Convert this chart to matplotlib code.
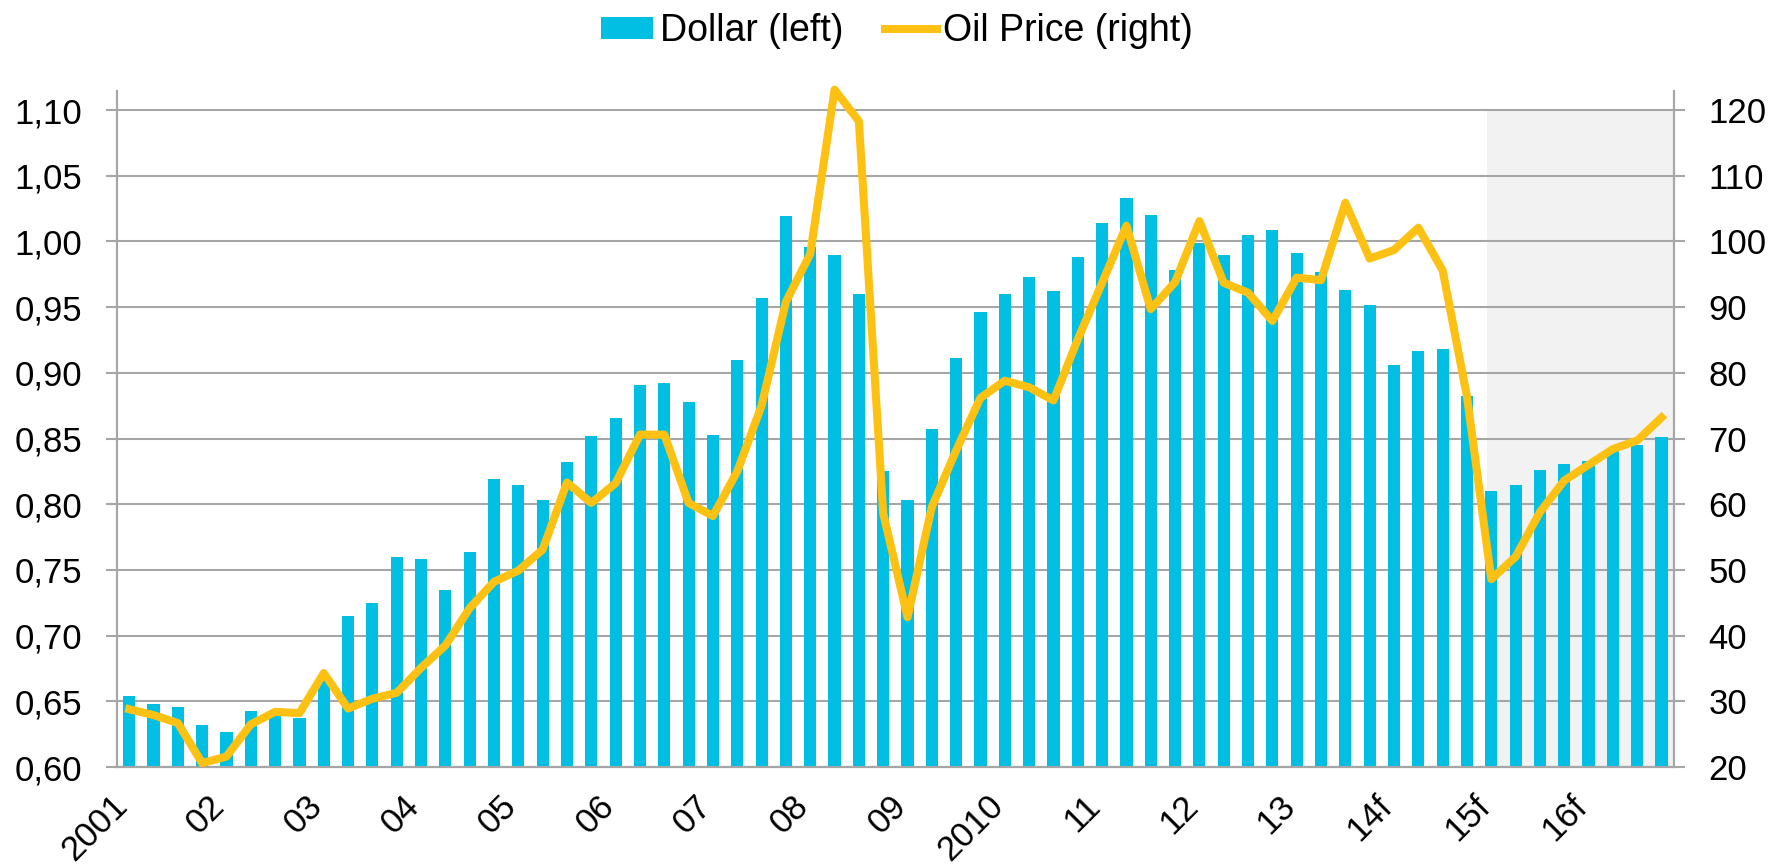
import matplotlib

matplotlib.use("Agg")
import matplotlib.pyplot as plt
import matplotlib.transforms as mtransforms
from matplotlib.lines import Line2D
from matplotlib.patches import Patch

# quarterly, 2001 Q1 .. 2016 Q4
dollar = [
    0.654, 0.648, 0.646, 0.632, 0.627, 0.643, 0.642, 0.637, 0.666, 0.715,
    0.725, 0.760, 0.758, 0.735, 0.764, 0.819, 0.815, 0.803, 0.832, 0.852,
    0.866, 0.891, 0.892, 0.878, 0.853, 0.910, 0.957, 1.019, 0.996, 0.990,
    0.960, 0.825, 0.803, 0.857, 0.911, 0.946, 0.960, 0.973, 0.962, 0.988,
    1.014, 1.033, 1.020, 0.978, 0.999, 0.990, 1.005, 1.009, 0.991, 0.977,
    0.963, 0.952, 0.906, 0.917, 0.918, 0.882, 0.810, 0.815, 0.826, 0.831,
    0.833, 0.841, 0.845, 0.851,
]
oil = [
    28.8, 27.9, 26.7, 20.6, 21.6, 26.5, 28.4, 28.2, 34.3, 28.9,
    30.4, 31.3, 35.1, 38.5, 44.2, 48.2, 49.9, 53.1, 63.3, 60.2,
    63.2, 70.6, 70.6, 60.2, 58.2, 65.0, 75.0, 90.8, 98.1, 123.1,
    118.3, 58.6, 42.8, 59.6, 68.2, 76.2, 78.8, 77.8, 75.8, 85.1,
    93.7, 102.4, 89.7, 93.8, 103.1, 93.7, 92.2, 87.9, 94.5, 94.1,
    105.9, 97.4, 98.7, 102.1, 95.6, 76.4, 48.6, 52.0, 58.8, 63.6,
    66.0, 68.4, 69.7, 73.2,
]
year_labels = ["2001", "02", "03", "04", "05", "06", "07", "08", "09",
               "2010", "11", "12", "13", "14f", "15f", "16f"]
left_ticks = [0.60, 0.65, 0.70, 0.75, 0.80, 0.85, 0.90, 0.95, 1.00, 1.05, 1.10]
right_ticks = [20, 30, 40, 50, 60, 70, 80, 90, 100, 110, 120]
forecast_start = 56  # index of 2015 Q1

BAR_COLOR = "#00BFE2"
LINE_COLOR = "#FDC113"
GRID_COLOR = "#A6A6A6"

plt.rcParams["font.family"] = ["Liberation Sans", "DejaVu Sans"]

fig = plt.figure(figsize=(17.73, 8.66), dpi=100)
ax = fig.add_axes([0.066, 0.1143, 0.878, 0.7806])
ax2 = ax.twinx()

x = list(range(len(dollar)))

# forecast shading (up to the top gridline)
ax.fill_between([forecast_start - 0.16, len(dollar) - 0.5], 0.60, 1.10,
                color="#F2F2F2", zorder=0.2, linewidth=0)
ax.bar(x, dollar, width=0.5, color=BAR_COLOR, zorder=2)
ax2.plot(x, oil, color=LINE_COLOR, linewidth=5.8, solid_joinstyle="round",
         clip_on=False, zorder=3)

ax.set_xlim(-0.5, len(dollar) - 0.5)
ax.set_ylim(0.60, 1.1145)
ax2.set_ylim(20, 122.9)

ax.set_axisbelow(True)
ax.yaxis.grid(True, color=GRID_COLOR, linewidth=1.5)
ax.set_yticks(left_ticks)
ax.set_yticklabels([f"{v:.2f}".replace(".", ",") for v in left_ticks])
ax2.set_yticks(right_ticks)
ax2.set_yticklabels([str(v) for v in right_ticks])

ax.set_xticks(x[::4])
ax.set_xticklabels(year_labels, rotation=45, ha="right", va="baseline",
                   rotation_mode="anchor")
shift = mtransforms.ScaledTranslation(0.06, 0, fig.dpi_scale_trans)
for lbl in ax.get_xticklabels():
    lbl.set_transform(lbl.get_transform() + shift)

ax.tick_params(axis="y", length=8, width=1.5, color=GRID_COLOR, pad=17,
               labelsize=25)
ax2.tick_params(axis="y", length=8, width=1.5, color=GRID_COLOR, pad=17,
                labelsize=25)
ax.tick_params(axis="x", length=0, pad=29, labelsize=25)

for a in (ax, ax2):
    a.spines["top"].set_visible(False)
    for s in ("left", "right", "bottom"):
        a.spines[s].set_color(GRID_COLOR)
        a.spines[s].set_linewidth(1.5)
ax2.set_zorder(ax.get_zorder() + 1)
ax2.patch.set_visible(False)

handles = [
    Patch(facecolor=BAR_COLOR, edgecolor="none"),
    Line2D([0], [0], color=LINE_COLOR, linewidth=5.8),
]
fig.legend(handles, ["Dollar (left)", "Oil Price (right)"],
           loc="center", bbox_to_anchor=(0.506, 0.964), ncol=2,
           frameon=False, fontsize=27, handlelength=1.4, handleheight=0.55,
           handletextpad=0.17, columnspacing=1.1)

fig.savefig("out.png", dpi=100)
